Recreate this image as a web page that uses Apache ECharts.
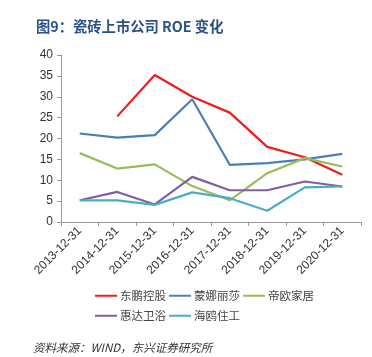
<!DOCTYPE html>
<html><head><meta charset="utf-8">
<script src="https://cdn.jsdelivr.net/npm/echarts@6/dist/echarts.min.js"></script>
<style>html,body{margin:0;padding:0;background:#fff}#c{width:372px;height:357px}</style>
</head><body><div id="c"></div>
<script>
var categories = ['2013-12-31','2014-12-31','2015-12-31','2016-12-31','2017-12-31','2018-12-31','2019-12-31','2020-12-31'];
var dongpeng = [null, 25.3, 35.2, 30.0, 26.2, 18.0, 15.5, 11.3];
var monalisa = [21.2, 20.2, 20.8, 29.4, 13.7, 14.1, 15.0, 16.3];
var dioux = [16.5, 12.8, 13.8, 8.6, 5.2, 11.7, 15.3, 13.3];
var huida = [5.2, 7.2, 4.2, 10.8, 7.6, 7.6, 9.7, 8.5];
var haiou = [5.2, 5.2, 4.1, 7.1, 5.7, 2.7, 8.3, 8.5];
var names = ['东鹏控股','蒙娜丽莎','帝欧家居','惠达卫浴','海鸥住工'];
var colors = ['#ee1c1c','#4a7ebb','#9bbb59','#7f5fa1','#4bacc6'];
var seriesData = [dongpeng, monalisa, dioux, huida, haiou];

var chart = echarts.init(document.getElementById('c'));
var series = seriesData.map(function(d,i){
  return {name:names[i], type:'line', data:d, showSymbol:false, symbol:'none',
    lineStyle:{width:2.2, color:colors[i]}, itemStyle:{color:colors[i]}, connectNulls:false, animation:false};
});
var legendText = {fontSize:11.5, color:'#444', fontFamily:'Noto Sans CJK SC', padding:[0,0,0,-2]};
chart.setOption({
  animation:false,
  title:{text:'图9：瓷砖上市公司 ROE 变化', left:31, top:14,
    textStyle:{fontSize:14.3, fontWeight:'bold', color:'#2b5286', fontFamily:'Noto Sans CJK SC'}},
  graphic:[{type:'text', left:33, top:342, style:{text:'资料来源：WIND，东兴证券研究所', fontSize:11.5, fontStyle:'italic', fill:'#333', fontFamily:'Noto Sans CJK SC'}}],
  legend:[
    {data:names.slice(0,3), left:90, top:285, itemWidth:22, itemHeight:2, icon:'rect', itemGap:3, textStyle:legendText},
    {data:names.slice(3), left:90, top:305, itemWidth:22, itemHeight:2, icon:'rect', itemGap:3, textStyle:legendText}
  ],
  grid:{left:61, right:11, top:55, bottom:135, containLabel:false},
  xAxis:{type:'category', data:categories, boundaryGap:true,
    axisLine:{lineStyle:{color:'#999'}}, axisTick:{show:true, lineStyle:{color:'#999'}, length:4},
    axisLabel:{rotate:45, fontSize:12, color:'#333', margin:7, interval:0, fontFamily:'Liberation Sans Narrow, Liberation Sans'}},
  yAxis:{type:'value', min:0, max:40, interval:5,
    axisLine:{show:true, lineStyle:{color:'#999'}}, axisTick:{show:true, lineStyle:{color:'#999'}, length:4},
    splitLine:{show:false},
    axisLabel:{fontSize:12, color:'#333', margin:8, fontFamily:'Liberation Sans'}},
  series:series
});
</script></body></html>
